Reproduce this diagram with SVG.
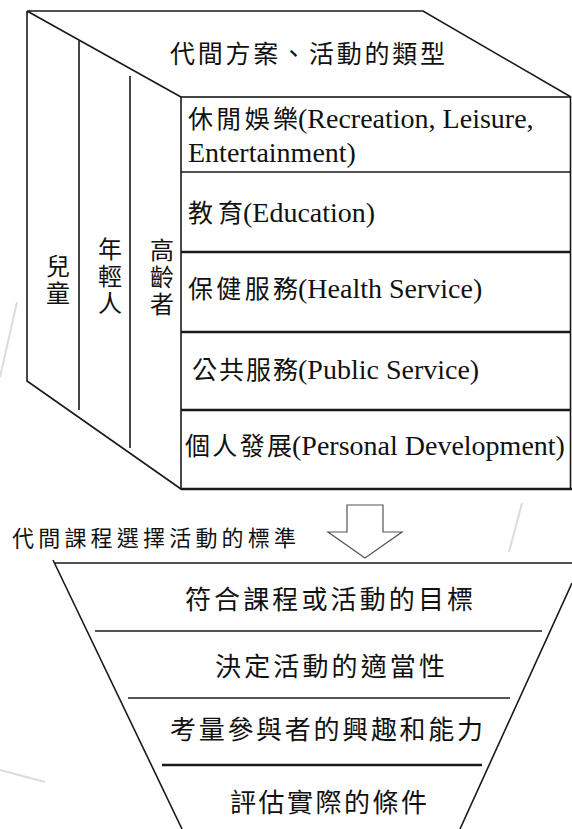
<svg xmlns="http://www.w3.org/2000/svg" width="572" height="829" viewBox="0 0 572 829">
<style>
  .ln { stroke:#1a1a1a; stroke-width:1.6; fill:none; }
  .thick { stroke:#1a1a1a; stroke-width:2.6; fill:none; }
  .faint { stroke:#dcdcdc; stroke-width:2; fill:none; }
  .cjk { font-family:"Noto Sans CJK TC","Noto Sans CJK SC",sans-serif; fill:#111; }
  .lat { font-family:"Liberation Serif","Noto Sans CJK TC",serif; fill:#111; }
  .c25 { font-size:25px; }
  .l28 { font-size:28px; }
  .vert { writing-mode:vertical-rl; text-orientation:upright; letter-spacing:3px; font-size:24px; }
</style>
<rect width="572" height="829" fill="#ffffff"/>
<g id="background-marks">
  <line class="faint" x1="17" y1="302" x2="0" y2="377"/>
  <line class="faint" x1="522" y1="503" x2="509" y2="552"/>
  <line class="faint" x1="0" y1="770" x2="45" y2="782"/>
</g>
<g id="cube">
  <path class="ln" d="M27,11 H423 L571,97 M27,11 L181,97 M27,11 V381 L181,489 M79,41 V410 M130,76 V448"/>
  <rect class="ln" x="181" y="97" width="389.5" height="392"/>
  <line class="thick" x1="181" y1="489" x2="572" y2="489"/>
</g>
<g id="title">
  <text class="cjk c25" x="170" y="63" textLength="275" lengthAdjust="spacing">代間方案、活動的類型</text>
</g>
<g id="age-groups">
  <g id="children"><text class="cjk vert" x="58" y="254">兒童</text></g>
  <g id="youth"><text class="cjk vert" x="110" y="237">年輕人</text></g>
  <g id="elders"><text class="cjk vert" x="162" y="238">高齡者</text></g>
</g>
<g id="activity-types">
  <g id="recreation">
    <text class="lat" y="128"><tspan class="cjk c25" x="188" textLength="110" lengthAdjust="spacing">休閒娛樂</tspan><tspan class="l28" x="298">(Recreation, Leisure,</tspan></text>
    <text class="lat l28" x="188" y="162">Entertainment)</text>
  </g>
  <line class="ln" x1="181" y1="172" x2="571" y2="172"/>
  <g id="education">
    <text class="lat" y="222"><tspan class="cjk c25" x="188" textLength="55" lengthAdjust="spacing">教育</tspan><tspan class="l28" x="243">(Education)</tspan></text>
  </g>
  <line class="thick" x1="181" y1="252" x2="571" y2="252"/>
  <g id="health">
    <text class="lat" y="298"><tspan class="cjk c25" x="188" textLength="110" lengthAdjust="spacing">保健服務</tspan><tspan class="l28" x="298">(Health Service)</tspan></text>
  </g>
  <line class="thick" x1="181" y1="332" x2="571" y2="332"/>
  <g id="public">
    <text class="lat" y="379"><tspan class="cjk c25" x="192" textLength="106" lengthAdjust="spacing">公共服務</tspan><tspan class="l28" x="298">(Public Service)</tspan></text>
  </g>
  <line class="thick" x1="181" y1="410" x2="571" y2="410"/>
  <g id="personal">
    <text class="lat" y="455"><tspan class="cjk c25" x="185" textLength="107" lengthAdjust="spacing">個人發展</tspan><tspan class="l28" x="292">(Personal Development)</tspan></text>
  </g>
</g>
<g id="connectors">
  <polygon points="347,505 383,505 383,532 402,532 365,558 328,532 347,532" fill="#ffffff" stroke="#555" stroke-width="1.2"/>
</g>
<g id="criteria-title">
  <text class="cjk" style="font-size:22px" x="12" y="546" textLength="284" lengthAdjust="spacing">代間課程選擇活動的標準</text>
</g>
<g id="funnel">
  <path class="ln" d="M55,563 H572 M53,560 L182,829 M572,583 L460,829"/>
  <line class="ln" x1="95" y1="631" x2="542" y2="631"/>
  <line class="ln" x1="128" y1="698" x2="510" y2="698"/>
  <line class="thick" x1="162" y1="765" x2="482" y2="765"/>
  <g id="criterion-1"><text class="cjk" style="font-size:26px" x="185" y="609" textLength="288" lengthAdjust="spacing">符合課程或活動的目標</text></g>
  <g id="criterion-2"><text class="cjk" style="font-size:26px" x="215" y="676" textLength="230" lengthAdjust="spacing">決定活動的適當性</text></g>
  <g id="criterion-3"><text class="cjk" style="font-size:26px" x="170" y="739" textLength="313" lengthAdjust="spacing">考量參與者的興趣和能力</text></g>
  <g id="criterion-4"><text class="cjk" style="font-size:26px" x="230" y="812" textLength="197" lengthAdjust="spacing">評估實際的條件</text></g>
</g>
</svg>
